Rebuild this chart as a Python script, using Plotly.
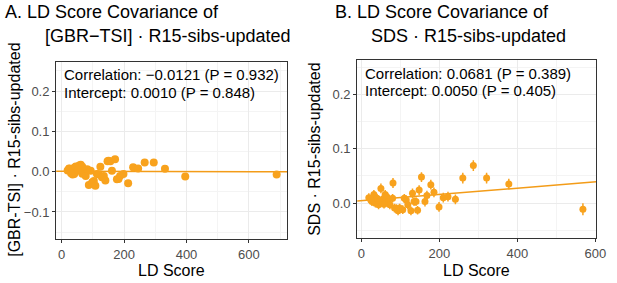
import plotly.graph_objects as go

# ---------------- data ----------------
# Panel A: [GBR-TSI] . R15-sibs-updated
a_ld = [19, 24, 29, 35, 40, 45, 50, 56, 61, 66, 71, 77, 82, 87, 93, 98, 103, 108,
        113, 119, 124, 129, 135, 140, 147, 150, 156, 161, 171, 177, 182, 187, 198,
        213, 229, 245, 266, 295, 331, 396, 689,
        24, 35, 45, 56, 66, 40, 30, 52]
a_cov = [0.003, 0.008, 0.002, -0.007, 0.010, 0.011, 0.002, 0.015, 0.017, -0.005, 0.002,
         -0.011, 0.006, -0.033, 0.002, -0.026, -0.023, -0.035, -0.006, -0.007, 0.012,
         -0.014, -0.011, -0.022, 0.026, 0.027, 0.026, 0.002, 0.031, -0.019, -0.018,
         -0.011, -0.006, -0.029, 0.011, 0.008, 0.023, 0.023, 0.007, -0.012, -0.007,
         0.007, -0.002, 0.013, 0.008, 0.012, -0.006, -0.004, 0.004]
a_intercept = 0.0010
a_slope = -0.000002

# Panel B: SDS . R15-sibs-updated
b_ld = [19, 27, 32, 36, 40, 44, 50, 56, 61, 65, 69, 73, 81, 80, 85, 90, 94, 98, 106,
        110, 115, 119, 127, 131, 135, 140, 144, 148, 154, 163, 168, 178, 186, 199,
        210, 222, 241, 260, 287, 321, 378, 568, 24, 47, 58]
b_cov = [0.010, 0.003, 0.016, 0.000, 0.009, -0.003, 0.027, 0.008, 0.016, 0.012, 0.003,
         -0.003, 0.037, 0.009, -0.009, -0.010, -0.014, -0.009, -0.012, 0.009, 0.006,
         -0.003, -0.014, 0.018, 0.003, 0.003, -0.013, 0.024, 0.048, 0.003, 0.014,
         0.034, 0.020, -0.007, 0.010, 0.012, 0.007, 0.046, 0.069, 0.046, 0.035,
         -0.011, 0.006, 0.004, -0.002]
b_err = [0.008, 0.008, 0.008, 0.008, 0.008, 0.008, 0.009, 0.008, 0.008, 0.008, 0.008,
         0.008, 0.009, 0.008, 0.008, 0.008, 0.008, 0.008, 0.008, 0.008, 0.008, 0.008,
         0.008, 0.009, 0.008, 0.008, 0.008, 0.009, 0.009, 0.009, 0.009, 0.009, 0.009,
         0.009, 0.009, 0.009, 0.009, 0.010, 0.010, 0.010, 0.010, 0.011, 0.008, 0.008,
         0.008]
b_intercept = 0.0045
b_slope = 0.0000575

x_ticks = [0, 200, 400, 600]
y_ticks = [-0.1, 0.0, 0.1, 0.2]

ORANGE = "#F8A21D"
LINE = "#F39C18"

W, H = 617, 283

def px(x):
    return x / W

def py(y):
    return 1 - y / H

fig = go.Figure()

# Panel A
a_x_range = [-18, 723]
fig.add_trace(go.Scatter(x=a_x_range,
                         y=[a_intercept + a_slope * v for v in a_x_range],
                         mode="lines", line=dict(color=LINE, width=1.5),
                         xaxis="x", yaxis="y", hoverinfo="skip"))
fig.add_trace(go.Scatter(x=a_ld, y=a_cov, mode="markers",
                         marker=dict(color=ORANGE, size=8),
                         xaxis="x", yaxis="y"))

# Panel B
b_x_range = [-11, 602]
fig.add_trace(go.Scatter(x=b_x_range,
                         y=[b_intercept + b_slope * v for v in b_x_range],
                         mode="lines", line=dict(color=LINE, width=1.5),
                         xaxis="x2", yaxis="y2", hoverinfo="skip"))
fig.add_trace(go.Scatter(x=b_ld, y=b_cov, mode="markers",
                         marker=dict(color=ORANGE, size=7),
                         error_y=dict(type="data", array=b_err, color=ORANGE,
                                      thickness=1.5, width=0),
                         xaxis="x2", yaxis="y2"))

common_axis = dict(
    showline=True, mirror=True, linecolor="#333333", linewidth=1,
    ticks="outside", ticklen=3, tickcolor="#333333", tickwidth=1,
    showgrid=True, gridcolor="#EBEBEB", gridwidth=1,
    zeroline=False,
    tickfont=dict(family="Liberation Sans, Arial, sans-serif", size=13, color="#4D4D4D"),
)

fig.update_layout(
    width=W, height=H,
    margin=dict(l=0, r=0, t=0, b=0),
    paper_bgcolor="white", plot_bgcolor="white",
    showlegend=False,
    font=dict(family="Liberation Sans, Arial, sans-serif", color="black"),
    xaxis=dict(domain=[px(57), px(292)], range=a_x_range, tickvals=x_ticks,
               anchor="y",
               minor=dict(dtick=100, tick0=0, showgrid=True, gridcolor="#F4F4F4",
                          gridwidth=0.6, ticks=""),
               **common_axis),
    yaxis=dict(domain=[py(239), py(62)], range=[-0.167, 0.272], tickvals=y_ticks,
               tickformat=".1f", anchor="x",
               minor=dict(dtick=0.05, tick0=0, showgrid=True, gridcolor="#F4F4F4",
                          gridwidth=0.6, ticks=""),
               **common_axis),
    xaxis2=dict(domain=[px(363), px(606)], range=b_x_range, tickvals=x_ticks,
                anchor="y2",
                minor=dict(dtick=100, tick0=0, showgrid=True, gridcolor="#F4F4F4",
                           gridwidth=0.6, ticks=""),
                **common_axis),
    yaxis2=dict(domain=[py(238), py(60)], range=[-0.064, 0.263], tickvals=[0.0, 0.1, 0.2],
                tickformat=".1f", anchor="x2",
                minor=dict(dtick=0.05, tick0=0, showgrid=True, gridcolor="#F4F4F4",
                           gridwidth=0.6, ticks=""),
                **common_axis),
)

FONT = "Liberation Sans, Arial, sans-serif"

def text(x, y, s, size, xanchor="left", angle=0, color="black"):
    fig.add_annotation(x=px(x), y=py(y), xref="paper", yref="paper", text=s,
                       showarrow=False, xanchor=xanchor, yanchor="middle",
                       textangle=angle,
                       font=dict(family=FONT, size=size, color=color))

# titles
text(3, 12, "A. LD Score Covariance of", 18)
text(44, 36, "[GBR\u2212TSI] \u00b7 R15-sibs-updated", 18)
text(338, 12, "B. LD Score Covariance of", 18)
text(375, 36, "SDS \u00b7 R15-sibs-updated", 18)

# stats
text(63, 74, "Correlation: \u22120.0121 (P = 0.932)", 15)
text(63, 92, "Intercept: 0.0010 (P = 0.848)", 15)
text(369, 73, "Correlation: 0.0681 (P = 0.389)", 15)
text(369, 90, "Intercept: 0.0050 (P = 0.405)", 15)

# axis titles
text(174.5, 270, "LD Score", 16, xanchor="center")
text(484.5, 270, "LD Score", 16, xanchor="center")
text(14, 150, "[GBR-TSI] \u00b7 R15-sibs-updated", 16, xanchor="center", angle=-90)
text(319, 149, "SDS \u00b7 R15-sibs-updated", 16, xanchor="center", angle=-90)

fig.write_html("out.html",
               config={"displayModeBar": False},
               post_script="document.body.style.margin='0';"
                           "document.body.style.overflow='hidden';")
